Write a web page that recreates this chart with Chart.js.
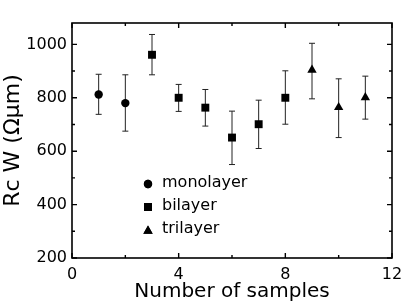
<!DOCTYPE html>
<html>
<head>
<meta charset="utf-8">
<script src="https://cdn.jsdelivr.net/npm/chart.js@4/dist/chart.umd.min.js"></script>
<style>
html,body{margin:0;padding:0;background:#fff;}
#wrap{width:415px;height:305px;position:relative;}
</style>
</head>
<body>
<div id="wrap"><canvas id="c"></canvas></div>
<script>
// ---- data ----
const seriesNames = ['monolayer', 'bilayer', 'trilayer'];
const monoX = [1, 2];
const monoY = [812, 780];
const monoHi = [888, 886];
const monoLo = [738, 675];
const biX = [3, 4, 5, 6, 7, 8];
const biY = [961, 800, 763, 651, 701, 800];
const biHi = [1037, 850, 831, 750, 791, 901];
const biLo = [886, 749, 694, 550, 610, 701];
const triX = [9, 10, 11];
const triY = [904, 764, 801];
const triHi = [1004, 871, 881];
const triLo = [796, 651, 720];
const xMajorTicks = [0, 4, 8, 12];
const xMinorTicks = [2, 6, 10];
const yMajorTicks = [200, 400, 600, 800, 1000];
const yMinorTicks = [300, 500, 700, 900];
const xTitle = 'Number of samples';
const yTitle = 'Rc W (\u03A9\u03BCm)';

function pts(xs, ys, hi, lo) {
  return xs.map((x, i) => ({x: x, y: ys[i], yHi: hi[i], yLo: lo[i]}));
}

const FONT = 'DejaVu Sans';

const errorBars = {
  id: 'errorBars',
  beforeDatasetsDraw(chart) {
    const ctx = chart.ctx;
    const xs = chart.scales.x, ys = chart.scales.y;
    ctx.save();
    ctx.strokeStyle = '#222';
    ctx.lineWidth = 1;
    chart.data.datasets.forEach(ds => {
      ds.data.forEach(p => {
        const px = xs.getPixelForValue(p.x);
        const pt = ys.getPixelForValue(p.yHi);
        const pb = ys.getPixelForValue(p.yLo);
        ctx.beginPath();
        ctx.moveTo(px, pt); ctx.lineTo(px, pb);
        ctx.moveTo(px - 3, pt); ctx.lineTo(px + 3, pt);
        ctx.moveTo(px - 3, pb); ctx.lineTo(px + 3, pb);
        ctx.stroke();
      });
    });
    ctx.restore();
  }
};

const frameTicks = {
  id: 'frameTicks',
  afterDraw(chart) {
    const ctx = chart.ctx;
    const a = chart.chartArea;
    const xs = chart.scales.x, ys = chart.scales.y;
    ctx.save();
    ctx.strokeStyle = '#000';
    ctx.lineWidth = 1.6;
    ctx.strokeRect(a.left, a.top, a.right - a.left, a.bottom - a.top);
    ctx.lineWidth = 1.4;
    ctx.beginPath();
    const tx = (v, len) => {
      const p = xs.getPixelForValue(v);
      ctx.moveTo(p, a.bottom); ctx.lineTo(p, a.bottom - len);
      ctx.moveTo(p, a.top); ctx.lineTo(p, a.top + len);
    };
    const ty = (v, len) => {
      const p = ys.getPixelForValue(v);
      ctx.moveTo(a.left, p); ctx.lineTo(a.left + len, p);
      ctx.moveTo(a.right, p); ctx.lineTo(a.right - len, p);
    };
    xMajorTicks.forEach(v => tx(v, 5));
    xMinorTicks.forEach(v => tx(v, 3));
    yMajorTicks.forEach(v => ty(v, 5));
    yMinorTicks.forEach(v => ty(v, 3));
    ctx.stroke();
    ctx.restore();
  }
};

const innerLegend = {
  id: 'innerLegend',
  afterDraw(chart) {
    const ctx = chart.ctx;
    ctx.save();
    ctx.font = '16px "' + FONT + '"';
    ctx.textBaseline = 'middle';
    ctx.fillStyle = '#000';
    const rows = [184, 207, 230];
    chart.data.datasets.forEach((ds, i) => {
      const y = rows[i];
      Chart.helpers.drawPoint(ctx, {pointStyle: ds.pointStyle, radius: ds.pointRadius, rotation: 0, borderWidth: 0}, 148, y + (ds.pointStyle === 'triangle' ? 1 : 0));
      ctx.fill();
      ctx.fillText(ds.label, 162, y - 1);
    });
    ctx.restore();
  }
};

const ds = (label, data, style, r) => ({
  label: label, data: data, pointStyle: style, pointRadius: r,
  pointHoverRadius: r, backgroundColor: '#000', borderColor: '#000',
  borderWidth: 0, showLine: false
});

new Chart(document.getElementById('c'), {
  type: 'scatter',
  data: {
    datasets: [
      ds(seriesNames[0], pts(monoX, monoY, monoHi, monoLo), 'circle', 4.2),
      ds(seriesNames[1], pts(biX, biY, biHi, biLo), 'rect', 5.6),
      ds(seriesNames[2], pts(triX, triY, triHi, triLo), 'triangle', 5.4)
    ]
  },
  options: {
    responsive: true,
    maintainAspectRatio: false,
    animation: false,
    events: [],
    layout: {padding: {left: 0, right: 23, top: 23, bottom: 0}},
    plugins: {legend: {display: false}, tooltip: {enabled: false}},
    scales: {
      x: {
        type: 'linear', min: 0, max: 12,
        grid: {display: false, drawTicks: false},
        border: {display: false},
        ticks: {stepSize: 4, includeBounds: false, color: '#000', padding: 7,
                font: {family: FONT, size: 16}, maxRotation: 0},
        afterFit(s) { s.height = 47; },
        title: {display: true, text: xTitle, color: '#000',
                font: {family: FONT, size: 20}, padding: {top: 0, bottom: 1}}
      },
      y: {
        type: 'linear', min: 200, max: 1080,
        grid: {display: false, drawTicks: false},
        border: {display: false},
        ticks: {stepSize: 200, includeBounds: false, color: '#000', padding: 5,
                font: {family: FONT, size: 16},
                callback: v => (v % 200 === 0 ? String(v) : '')},
        afterFit(s) { s.width = 72; },
        title: {display: true, text: yTitle, color: '#000',
                font: {family: FONT, size: 22}, padding: {top: 0, bottom: 0}}
      }
    }
  },
  plugins: [errorBars, frameTicks, innerLegend]
});
</script>
</body>
</html>
